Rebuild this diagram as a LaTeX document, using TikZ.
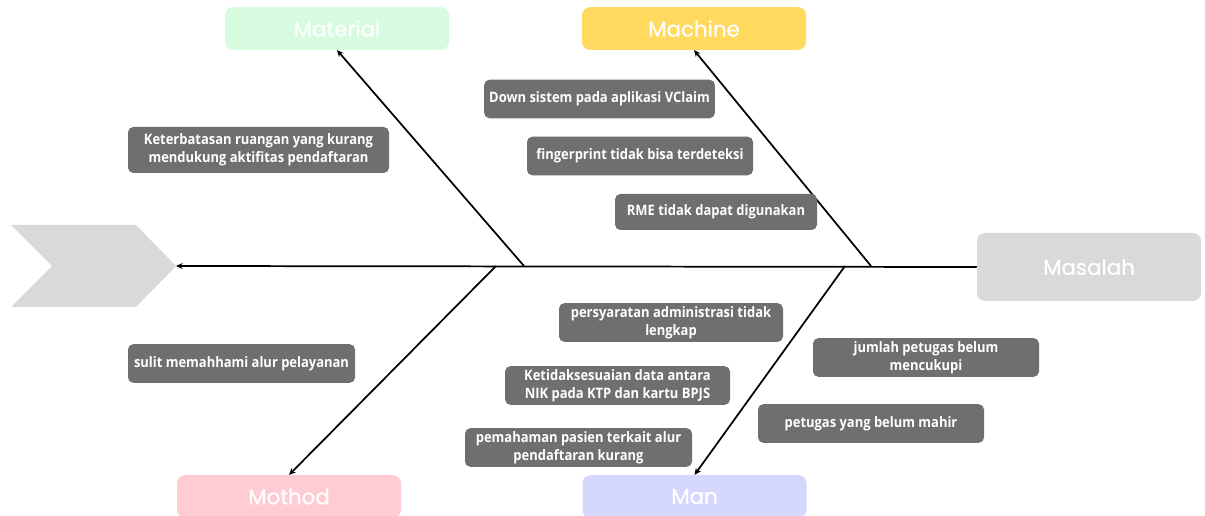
\documentclass[tikz,border=0pt]{standalone}
\usepackage{fontspec}
\setmainfont{Open Sans}
\newfontfamily\headfont[FakeBold=0.6]{Poppins}
\newfontfamily\causefont[FakeStretch=0.9]{Open Sans}
\usepackage{tikz}
\usetikzlibrary{positioning}
\usetikzlibrary{arrows.meta}
\definecolor{causegray}{HTML}{6F6F6F}
\definecolor{headgray}{HTML}{D9D9D9}
\definecolor{matgreen}{HTML}{D6FBDF}
\definecolor{macyellow}{HTML}{FFDA5E}
\definecolor{metpink}{HTML}{FFCCD3}
\definecolor{manblue}{HTML}{D6D7FF}

\begin{document}
\begin{tikzpicture}[x=0.75pt, y=-0.75pt,
  cause/.style = {fill=causegray, rounded corners=4pt, text=white, align=center, inner sep=1pt,
    font=\causefont\bfseries\fontsize{10.8}{13.5}\selectfont, minimum height=29pt},
  cat/.style = {rounded corners=6pt, text=white, font=\headfont\fontsize{16}{19}\selectfont,
    minimum width=168pt, minimum height=32pt},
  bone/.style = {line width=1.3pt, -{Stealth[length=5pt,width=4.5pt]}}]
\useasboundingbox (0,0) rectangle (1205,516);

% head of the fish
\fill[headgray] (11,225) -- (136,225) -- (176,266) -- (136,307) -- (11,307) -- (52,266) -- cycle;
\coordinate (head) at (176,266);

% categories
\node[cat, fill=matgreen] (mat) at (337,28.5) {Material};
\node[cat, fill=macyellow] (mac) at (694,28.5) {Machine};
\node[cat, fill=metpink] (met) at (289,496.5) {Mothod};
\node[cat, fill=manblue] (man) at (694.5,496.5) {Man};
\node[cat, fill=headgray, minimum height=51pt] (mas) at (1089,267) {Masalah};

% points on the spine
\coordinate (p1) at (524,266);
\coordinate (p2) at (871,266);
\coordinate (p3) at (496,266);
\coordinate (p4) at (845,266);

\draw[bone] (mas.west) -- (head);
\draw[bone] (p1) -- (mat.south);
\draw[bone] (p2) -- (mac.south);
\draw[bone] (p3) -- (met.north);
\draw[bone] (p4) -- (man.north);

% causes
\node[cause, minimum width=173pt] (vclaim) at (599.5,99) {Down sistem pada aplikasi VClaim};
\node[cause, minimum width=169.5pt] (finger) at (640,156) {fingerprint tidak bisa terdeteksi};
\node[cause, minimum width=151.5pt, minimum height=27pt] (rme) at (716,212) {RME tidak dapat digunakan};
\node[cause, minimum width=195.75pt, minimum height=34.5pt] (ruang) at (258.5,150) {Keterbatasan ruangan yang kurang\\mendukung aktifitas pendaftaran};
\node[cause, minimum width=170.25pt] (alur) at (241.5,363.5) {sulit memahhami alur pelayanan};
\node[cause, minimum width=168pt] (syarat) at (671,322.5) {persyaratan administrasi tidak\\lengkap};
\node[cause, minimum width=168.75pt] (nik) at (617.5,385.5) {Ketidaksesuaian data antara\\NIK pada KTP dan kartu BPJS};
\node[cause, minimum width=170.25pt] (paham) at (578.5,447.5) {pemahaman pasien terkait alur\\pendaftaran kurang};
\node[cause, minimum width=169.5pt] (jumlah) at (926,357.5) {jumlah petugas belum\\mencukupi};
\node[cause, minimum width=169.5pt] (mahir) at (871,423.5) {petugas yang belum mahir};
\end{tikzpicture}
\end{document}
